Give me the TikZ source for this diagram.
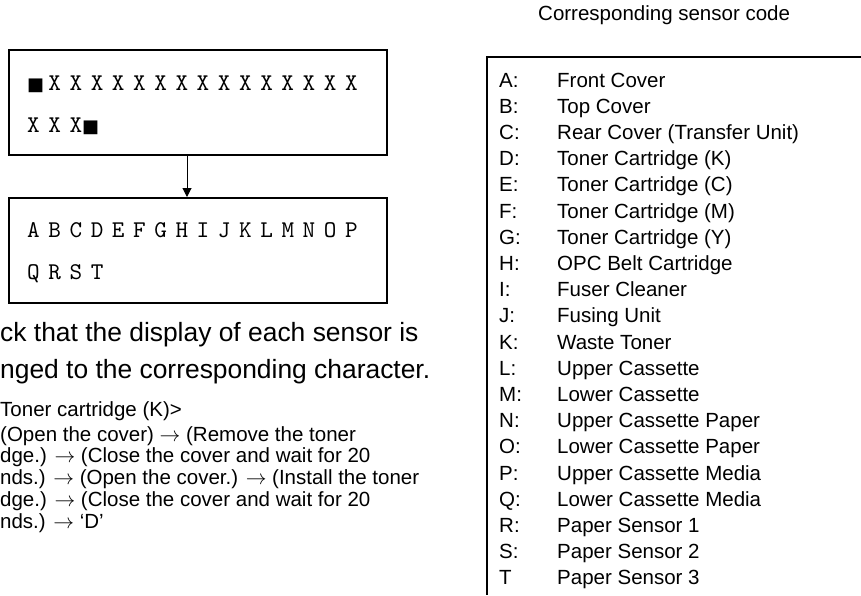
\documentclass[tikz,border=0pt]{standalone}
\usepackage{fontspec}
\setmainfont{Liberation Sans}
\newfontfamily\symbfont{DejaVu Sans}
\newfontfamily\lcdfont{lmmono10-regular.otf}[LetterSpace=35.8]
\usetikzlibrary{arrows.meta, positioning}

\begin{document}
\begin{tikzpicture}[x=1pt, y=-1pt,
        lcdbox/.style={rectangle, draw=black, line width=2pt, minimum width=378pt, minimum height=105pt, anchor=north west, inner sep=0pt},
        lcdrow/.style={anchor=base west, inner sep=0pt, font=\fontsize{24}{24}\selectfont\lcdfont},
        bigtext/.style={anchor=north west, inner sep=0pt, align=left, font=\fontsize{26.4}{37}\selectfont},
        smalltext/.style={anchor=north west, inner sep=0pt, align=left, font=\fontsize{20.5}{21.8}\selectfont},
        entry/.style={anchor=base west, inner sep=0pt, font=\fontsize{20.5}{20.5}\selectfont},
        arrowstyle/.style={-{Triangle[length=9pt, width=9pt]}, line width=1pt, color=black}
    ]
        \useasboundingbox (0,0) rectangle (861,595);

        % display before and after
        \node[lcdbox] (disp1) at (8,49) {};
        \node[lcdrow] (row1a) at (27,90) {\makebox[21.2pt][l]{\fontsize{18}{18}\selectfont\symbfont■}XXXXXXXXXXXXXXX};
        \node[lcdrow] (row1b) at (27,132) {XXX{\fontsize{18}{18}\selectfont\symbfont■}};
        \node[lcdbox] (disp2) at (8,197) {};
        \node[lcdrow] (row2a) at (27,237) {ABCDEFGHIJKLMNOP};
        \node[lcdrow] (row2b) at (27,279) {QRST};
        \coordinate (ax) at (187,0);
        \draw[arrowstyle] (disp1.south -| ax) -- (disp2.north -| ax);

        % explanation
        \node[bigtext] (note) at (0,322) {ck that the display of each sensor is\\nged to the corresponding character.};
        \node[smalltext] (ex) at (0,401) {Toner cartridge (K)>};
        \node[smalltext] (steps) at (0,426) {(Open the cover) $\rightarrow$ (Remove the toner\\
            dge.) $\rightarrow$ (Close the cover and wait for 20\\
            nds.) $\rightarrow$ (Open the cover.) $\rightarrow$ (Install the toner\\
            dge.) $\rightarrow$ (Close the cover and wait for 20\\
            nds.) $\rightarrow$ `D'};

        % sensor code table
        \node[entry] (title) at (538,20) {Corresponding sensor code};
        \draw[line width=2pt] (861,57) -- (487,57) -- (487,595);
        \node[entry] (eA) at (499,87.0) {\makebox[58pt][l]{A:}Front Cover};
        \node[entry] (eB) at (499,113.2) {\makebox[58pt][l]{B:}Top Cover};
        \node[entry] (eC) at (499,139.4) {\makebox[58pt][l]{C:}Rear Cover (Transfer Unit)};
        \node[entry] (eD) at (499,165.6) {\makebox[58pt][l]{D:}Toner Cartridge (K)};
        \node[entry] (eE) at (499,191.8) {\makebox[58pt][l]{E:}Toner Cartridge (C)};
        \node[entry] (eF) at (499,218.0) {\makebox[58pt][l]{F:}Toner Cartridge (M)};
        \node[entry] (eG) at (499,244.2) {\makebox[58pt][l]{G:}Toner Cartridge (Y)};
        \node[entry] (eH) at (499,270.4) {\makebox[58pt][l]{H:}OPC Belt Cartridge};
        \node[entry] (eI) at (499,296.6) {\makebox[58pt][l]{I:}Fuser Cleaner};
        \node[entry] (eJ) at (499,322.8) {\makebox[58pt][l]{J:}Fusing Unit};
        \node[entry] (eK) at (499,349.0) {\makebox[58pt][l]{K:}Waste Toner};
        \node[entry] (eL) at (499,375.2) {\makebox[58pt][l]{L:}Upper Cassette};
        \node[entry] (eM) at (499,401.4) {\makebox[58pt][l]{M:}Lower Cassette};
        \node[entry] (eN) at (499,427.6) {\makebox[58pt][l]{N:}Upper Cassette Paper};
        \node[entry] (eO) at (499,453.8) {\makebox[58pt][l]{O:}Lower Cassette Paper};
        \node[entry] (eP) at (499,480.0) {\makebox[58pt][l]{P:}Upper Cassette Media};
        \node[entry] (eQ) at (499,506.2) {\makebox[58pt][l]{Q:}Lower Cassette Media};
        \node[entry] (eR) at (499,532.4) {\makebox[58pt][l]{R:}Paper Sensor 1};
        \node[entry] (eS) at (499,558.6) {\makebox[58pt][l]{S:}Paper Sensor 2};
        \node[entry] (eT) at (499,584.8) {\makebox[58pt][l]{T}Paper Sensor 3};
    \end{tikzpicture}
\end{document}
